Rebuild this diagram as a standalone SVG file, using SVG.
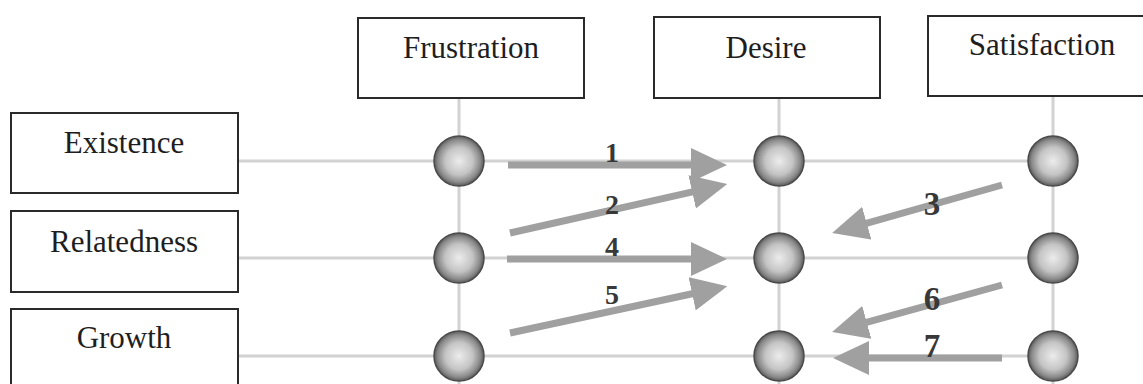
<svg xmlns="http://www.w3.org/2000/svg" width="1143" height="384" viewBox="0 0 1143 384">
  <style>
    .box { fill: #ffffff; stroke: #2a2a2a; stroke-width: 2; }
    .lbl { font-family: "Liberation Serif", "Times New Roman", serif; font-size: 31px; fill: #1e1e1e; text-anchor: middle; }
    .num { font-family: "Liberation Serif", "Times New Roman", serif; font-size: 28px; font-weight: bold; fill: #383838; text-anchor: middle; }
    .num.big { font-size: 33px; }
    .grid { stroke: #d2d2d2; stroke-width: 3; fill: none; }
    .arrow { stroke: #a0a0a0; stroke-width: 7; fill: none; marker-end: url(#head); }
    .ball { fill: url(#ballGrad); stroke: #4a4a4a; stroke-width: 1.5; }
  </style>
  <defs>
    <radialGradient id="ballGrad" cx="0.5" cy="0.5" r="0.5">
      <stop offset="0" stop-color="#ececec"/>
      <stop offset="0.55" stop-color="#c4c4c4"/>
      <stop offset="0.85" stop-color="#8a8a8a"/>
      <stop offset="1" stop-color="#5a5a5a"/>
    </radialGradient>
    <marker id="head" markerUnits="userSpaceOnUse" viewBox="0 0 36 34" markerWidth="36" markerHeight="34" refX="6" refY="17" orient="auto">
      <path d="M0,0 L36,17 L0,34 Z" fill="#a0a0a0"/>
    </marker>
  </defs>

  <!-- grid lines -->
  <g id="grid">
    <line class="grid" x1="238" y1="161" x2="1053" y2="161"/>
    <line class="grid" x1="238" y1="258" x2="1053" y2="258"/>
    <line class="grid" x1="238" y1="356" x2="1053" y2="356"/>
    <line class="grid" x1="459" y1="98" x2="459" y2="384"/>
    <line class="grid" x1="779" y1="98" x2="779" y2="384"/>
    <line class="grid" x1="1053" y1="96" x2="1053" y2="384"/>
  </g>

  <!-- column headers -->
  <g id="frustration">
    <rect class="box" x="358" y="18" width="226" height="80"/>
    <text class="lbl" x="471" y="58">Frustration</text>
  </g>
  <g id="desire">
    <rect class="box" x="654" y="17" width="226" height="81"/>
    <text class="lbl" x="766" y="58">Desire</text>
  </g>
  <g id="satisfaction">
    <rect class="box" x="928" y="16" width="229" height="80"/>
    <text class="lbl" x="1042" y="55">Satisfaction</text>
  </g>

  <!-- row headers -->
  <g id="existence">
    <rect class="box" x="11" y="113" width="227" height="80"/>
    <text class="lbl" x="124" y="153">Existence</text>
  </g>
  <g id="relatedness">
    <rect class="box" x="11" y="211" width="227" height="81"/>
    <text class="lbl" x="124" y="252">Relatedness</text>
  </g>
  <g id="growth">
    <rect class="box" x="11" y="309" width="227" height="90"/>
    <text class="lbl" x="124" y="348">Growth</text>
  </g>

  <!-- grid nodes -->
  <g id="nodes">
    <circle class="ball" cx="459" cy="161" r="25"/>
    <circle class="ball" cx="459" cy="258" r="25"/>
    <circle class="ball" cx="459" cy="356" r="25"/>
    <circle class="ball" cx="779" cy="161" r="25"/>
    <circle class="ball" cx="779" cy="258" r="25"/>
    <circle class="ball" cx="779" cy="356" r="25"/>
    <circle class="ball" cx="1053" cy="161" r="25"/>
    <circle class="ball" cx="1053" cy="258" r="25"/>
    <circle class="ball" cx="1053" cy="356" r="25"/>
  </g>

  <!-- transition arrows -->
  <g id="connectors">
    <line class="arrow" x1="508" y1="165" x2="697" y2="165"/>
    <line class="arrow" x1="510" y1="233" x2="698" y2="190.6"/>
    <line class="arrow" x1="507" y1="259" x2="697" y2="259"/>
    <line class="arrow" x1="510" y1="333" x2="698" y2="292.5"/>
    <line class="arrow" x1="1002" y1="185" x2="861" y2="224.8"/>
    <line class="arrow" x1="1002" y1="285" x2="861" y2="323.9"/>
    <line class="arrow" x1="1002" y1="358" x2="863" y2="358"/>
    <text class="num" x="612" y="162">1</text>
    <text class="num" x="612" y="214">2</text>
    <text class="num big" x="932" y="215">3</text>
    <text class="num" x="612" y="256">4</text>
    <text class="num" x="612" y="304">5</text>
    <text class="num big" x="932" y="310">6</text>
    <text class="num big" x="932" y="357">7</text>
  </g>
</svg>
